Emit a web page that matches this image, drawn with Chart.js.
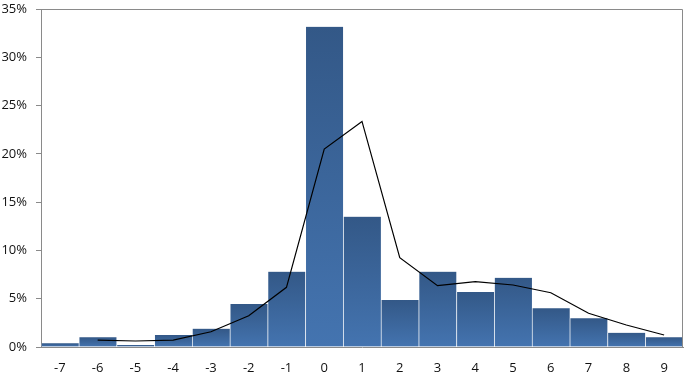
<!DOCTYPE html>
<html>
<head>
<meta charset="utf-8">
<script src="https://cdn.jsdelivr.net/npm/chart.js@4"></script>
<style>
html,body{margin:0;padding:0;background:#fff;}
#wrap{width:685px;height:377px;position:relative;}
</style>
</head>
<body>
<div id="wrap"><canvas id="c" width="685" height="377"></canvas></div>
<script>
const categories = ['-7','-6','-5','-4','-3','-2','-1','0','1','2','3','4','5','6','7','8','9'];
const barValues = [0.4, 1.0, 0.2, 1.25, 1.9, 4.45, 7.8, 33.15, 13.5, 4.87, 7.8, 5.7, 7.17, 4.0, 2.97, 1.48, 1.0];
const lineValues = [null, 0.72, 0.62, 0.72, 1.58, 3.24, 6.18, 20.5, 23.36, 9.25, 6.35, 6.76, 6.42, 5.62, 3.49, 2.28, 1.24];
const yTicks = [0, 5, 10, 15, 20, 25, 30, 35];

const boxPlugin = {
  id: 'box',
  afterDraw(chart) {
    const a = chart.chartArea, ctx = chart.ctx;
    ctx.save();
    ctx.strokeStyle = '#8a8a8a';
    ctx.lineWidth = 1;
    ctx.beginPath();
    ctx.moveTo(Math.round(a.left) + 0.5, Math.round(a.top) + 0.5);
    ctx.lineTo(Math.round(a.right) - 0.5, Math.round(a.top) + 0.5);
    ctx.lineTo(Math.round(a.right) - 0.5, Math.round(a.bottom) + 0.5);
    ctx.stroke();
    ctx.restore();
  }
};

function barFill(ctx) {
  const chart = ctx.chart;
  const ys = chart.scales.y;
  if (!ys || ctx.parsed === undefined || ctx.parsed.y === undefined) return '#3b66a0';
  const top = ys.getPixelForValue(ctx.parsed.y);
  const bot = ys.getPixelForValue(0);
  if (!isFinite(top) || !isFinite(bot) || bot - top < 1) return '#3b66a0';
  const g = chart.ctx.createLinearGradient(0, top, 0, bot);
  g.addColorStop(0, '#335887');
  g.addColorStop(1, '#4474b0');
  return g;
}

new Chart(document.getElementById('c'), {
  data: {
    labels: categories,
    datasets: [
      {
        type: 'line',
        data: lineValues,
        borderColor: '#000',
        borderWidth: 1.2,
        pointRadius: 0,
        tension: 0,
        fill: false,
        order: 0
      },
      {
        type: 'bar',
        data: barValues,
        backgroundColor: barFill,
        borderColor: 'rgba(255,255,255,0.2)',
        borderWidth: {left: 1, right: 0, top: 0, bottom: 0},
        barPercentage: 1,
        categoryPercentage: 1,
        order: 1
      }
    ]
  },
  options: {
    responsive: false,
    animation: false,
    layout: { padding: { top: 9, right: 2, left: 0, bottom: 0 } },
    plugins: { legend: { display: false }, tooltip: { enabled: false } },
    scales: {
      x: {
        grid: { drawOnChartArea: false, drawTicks: false },
        border: { color: '#8a8a8a', width: 1 },
        ticks: { padding: 13, color: '#111', font: { family: 'Open Sans', size: 13 }, maxRotation: 0 },
        afterFit: s => { s.height = 30; s.paddingLeft = 0; s.paddingRight = 0; }
      },
      y: {
        min: 0, max: 35,
        afterBuildTicks: s => { s.ticks = yTicks.map(v => ({ value: v })); },
        grid: { drawOnChartArea: false, drawTicks: true, tickLength: 5, color: '#8a8a8a' },
        border: { color: '#8a8a8a', width: 1 },
        ticks: { padding: 9, color: '#111', font: { family: 'Open Sans', size: 13 }, callback: v => v + '%' },
        afterFit: s => { s.width = 41; s.paddingTop = 0; s.paddingBottom = 0; }
      }
    }
  },
  plugins: [boxPlugin]
});
</script>
</body>
</html>
